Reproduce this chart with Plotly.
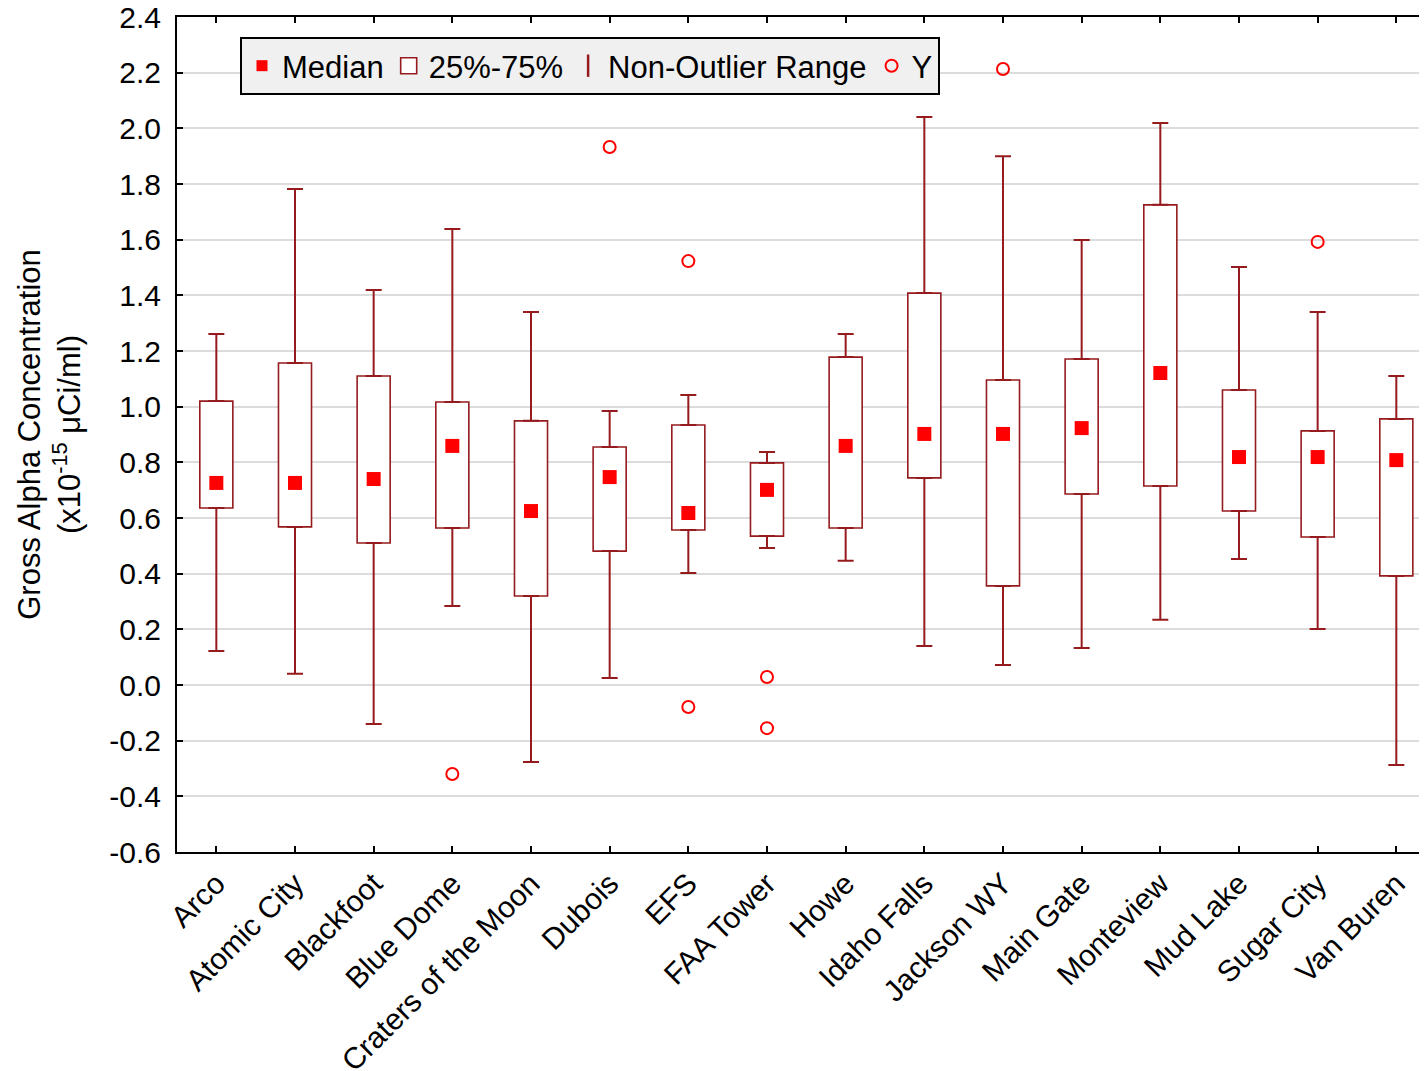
import plotly.graph_objects as go

categories = ["Arco", "Atomic City", "Blackfoot", "Blue Dome", "Craters of the Moon",
              "Dubois", "EFS", "FAA Tower", "Howe", "Idaho Falls", "Jackson WY",
              "Main Gate", "Monteview", "Mud Lake", "Sugar City", "Van Buren"]
median = [0.726, 0.726, 0.74, 0.859, 0.625, 0.747, 0.618, 0.701, 0.859, 0.902, 0.902,
          0.923, 1.121, 0.819, 0.819, 0.808]
q1 = [0.636, 0.568, 0.51, 0.564, 0.32, 0.481, 0.557, 0.535, 0.564, 0.744, 0.356,
      0.686, 0.715, 0.625, 0.532, 0.392]
q3 = [1.02, 1.157, 1.11, 1.017, 0.949, 0.855, 0.934, 0.798, 1.178, 1.408, 1.096,
      1.171, 1.725, 1.06, 0.913, 0.956]
whisk_low = [0.122, 0.04, -0.14, 0.284, -0.277, 0.025, 0.402, 0.492, 0.446, 0.14, 0.072,
             0.133, 0.234, 0.453, 0.201, -0.287]
whisk_high = [1.261, 1.782, 1.419, 1.638, 1.34, 0.984, 1.042, 0.837, 1.261, 2.041, 1.90,
              1.599, 2.019, 1.502, 1.34, 1.11]
outlier_cat = ["Blue Dome", "Dubois", "EFS", "EFS", "FAA Tower", "FAA Tower", "Jackson WY", "Sugar City"]
outlier_val = [-0.32, 1.933, 1.523, -0.079, 0.029, -0.155, 2.213, 1.592]

y_ticks = [-0.6, -0.4, -0.2, 0.0, 0.2, 0.4, 0.6, 0.8, 1.0, 1.2, 1.4, 1.6, 1.8, 2.0, 2.2, 2.4]

DARK = "#951b1e"
RED = "#ff0000"
FONT = "Liberation Sans, Arial, sans-serif"

fig = go.Figure()

# Boxes (25%-75%)
fig.add_trace(go.Bar(
    x=categories, y=[b - a for a, b in zip(q1, q3)], base=q1, width=0.42,
    marker=dict(color="white", line=dict(color=DARK, width=1.6)),
    name="25%-75%", showlegend=False))

# Upper whiskers
fig.add_trace(go.Scatter(
    x=categories, y=q3, mode="markers", marker=dict(opacity=0, color=DARK),
    error_y=dict(type="data", symmetric=False,
                 array=[h - t for h, t in zip(whisk_high, q3)],
                 arrayminus=[0] * len(q3), color=DARK, thickness=2, width=8),
    showlegend=False, hoverinfo="skip"))
# Lower whiskers
fig.add_trace(go.Scatter(
    x=categories, y=q1, mode="markers", marker=dict(opacity=0, color=DARK),
    error_y=dict(type="data", symmetric=False,
                 array=[0] * len(q1),
                 arrayminus=[b - l for b, l in zip(q1, whisk_low)], color=DARK, thickness=2, width=8),
    showlegend=False, hoverinfo="skip"))

# Legend entries
fig.add_trace(go.Scatter(
    x=[None], y=[None], mode="markers",
    marker=dict(symbol="square", size=11, color=RED),
    name="Median", legendrank=1))
fig.add_trace(go.Scatter(
    x=[None], y=[None], mode="markers",
    marker=dict(symbol="square", size=16, color="white", line=dict(color=DARK, width=1.6)),
    name="25%-75%", legendrank=2))
fig.add_trace(go.Scatter(
    x=[None], y=[None], mode="markers",
    marker=dict(symbol="line-ns-open", size=16, color=DARK, line=dict(color=DARK, width=2.5)),
    name="Non-Outlier Range", legendrank=3))

# Medians
fig.add_trace(go.Scatter(
    x=categories, y=median, mode="markers",
    marker=dict(symbol="square", size=14, color=RED),
    name="Median", showlegend=False))

# Outliers
fig.add_trace(go.Scatter(
    x=outlier_cat, y=outlier_val, mode="markers",
    marker=dict(symbol="circle-open", size=12, color=RED, line=dict(color=RED, width=2)),
    name="Y", legendrank=4))

fig.update_layout(
    width=1427, height=1071,
    margin=dict(l=169, r=8, t=9, b=227, autoexpand=False),
    paper_bgcolor="white", plot_bgcolor="white",
    font=dict(family=FONT, size=30, color="black"),
    legend=dict(orientation="h", x=0.0504, y=0.976, xanchor="left", yanchor="top",
                bgcolor="#f0f0f0", bordercolor="black", borderwidth=2,
                font=dict(family=FONT, size=31, color="black"),
                itemsizing="trace", tracegroupgap=0),
    showlegend=True,
)

fig.update_xaxes(
    type="category", categoryorder="array", categoryarray=categories,
    range=[-0.5, 15.39], tickangle=-45, automargin=False,
    showline=True, linecolor="black", linewidth=2, mirror="ticks",
    ticks="inside", ticklen=6, tickwidth=2, tickcolor="black",
    showgrid=False, tickfont=dict(family=FONT, size=30),
    ticklabeloverflow="allow",
)
fig.update_yaxes(
    range=[-0.6, 2.4], tickvals=y_ticks, ticktext=[f"{v:.1f}" for v in y_ticks],
    automargin=False,
    showline=True, linecolor="black", linewidth=2, mirror=False,
    ticks="inside", ticklen=6, tickwidth=2, tickcolor="black",
    showgrid=True, gridcolor="#dcdcdc", gridwidth=2, zeroline=False,
    tickfont=dict(family=FONT, size=30), ticklabelstandoff=8,
    ticklabeloverflow="allow",
    title=dict(text="Gross Alpha Concentration<br>(x10<sup>-15</sup> μCi/ml)",
               font=dict(family=FONT, size=31), standoff=19),
)

fig.write_html("out.html")
